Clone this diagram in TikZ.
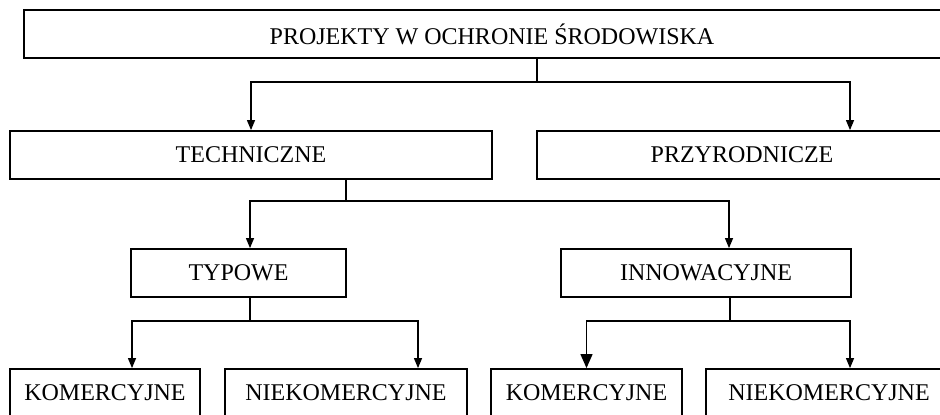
\documentclass[tikz,border=0pt]{standalone}
\usepackage{fontspec}
\setmainfont{Liberation Serif}
\usetikzlibrary{arrows.meta}

\begin{document}
\begin{tikzpicture}[x=0.5pt,y=-0.5pt,
    box/.style={draw,line width=0.9pt,minimum height=24pt,inner sep=0pt,
      font=\fontsize{12}{14}\selectfont},
    link/.style={line width=0.6pt},
    arr/.style={link,-{Triangle[width=4pt,length=5pt]}}]
  \useasboundingbox (0,0) rectangle (940,415);
  \draw
    (492,34) node[box,minimum width=468pt] (proj){PROJEKTY W OCHRONIE ŚRODOWISKA}
    (251,155) node[box,minimum width=241pt] (tech){TECHNICZNE}
    (742,155) node[box,minimum width=205pt] (przy){PRZYRODNICZE}
    (238.5,273) node[box,minimum width=107.5pt] (typ){TYPOWE}
    (706,273) node[box,minimum width=145pt] (inno){INNOWACYJNE}
    (105,393) node[box,minimum width=95pt] (kom1){KOMERCYJNE}
    (346,393) node[box,minimum width=121pt] (niek1){NIEKOMERCYJNE}
    (586.5,393) node[box,minimum width=95.5pt] (kom2){KOMERCYJNE}
    (829,393) node[box,minimum width=123pt] (niek2){NIEKOMERCYJNE};
  % branch points
  \coordinate (j0) at (537,82);
  \coordinate (j1) at (346,201);
  \coordinate (j2) at (250,321);
  \coordinate (j3) at (730,321);
  \begin{scope}
    \draw[link] (proj.south -| j0) -- (j0);
    \draw[arr] (j0) -| (tech.north);
    \draw[arr] (j0) -| ([xshift=54pt]przy.north);
    \draw[link] (tech.south -| j1) -- (j1);
    \draw[arr] (j1) -| ([xshift=5.75pt]typ.north);
    \draw[arr] (j1) -| ([xshift=11.5pt]inno.north);
    \draw[link] (typ.south -| j2) -- (j2);
    \draw[arr] (j2) -| ([xshift=13.5pt]kom1.north);
    \draw[arr] (j2) -| ([xshift=36pt]niek1.north);
    \draw[link] (inno.south -| j3) -- (j3);
    \draw[arr,-{Triangle[width=6pt,length=7pt]}] (j3) -| (kom2.north);
    \draw[arr] (j3) -| ([xshift=10.5pt]niek2.north);
  \end{scope}
\end{tikzpicture}
\end{document}
